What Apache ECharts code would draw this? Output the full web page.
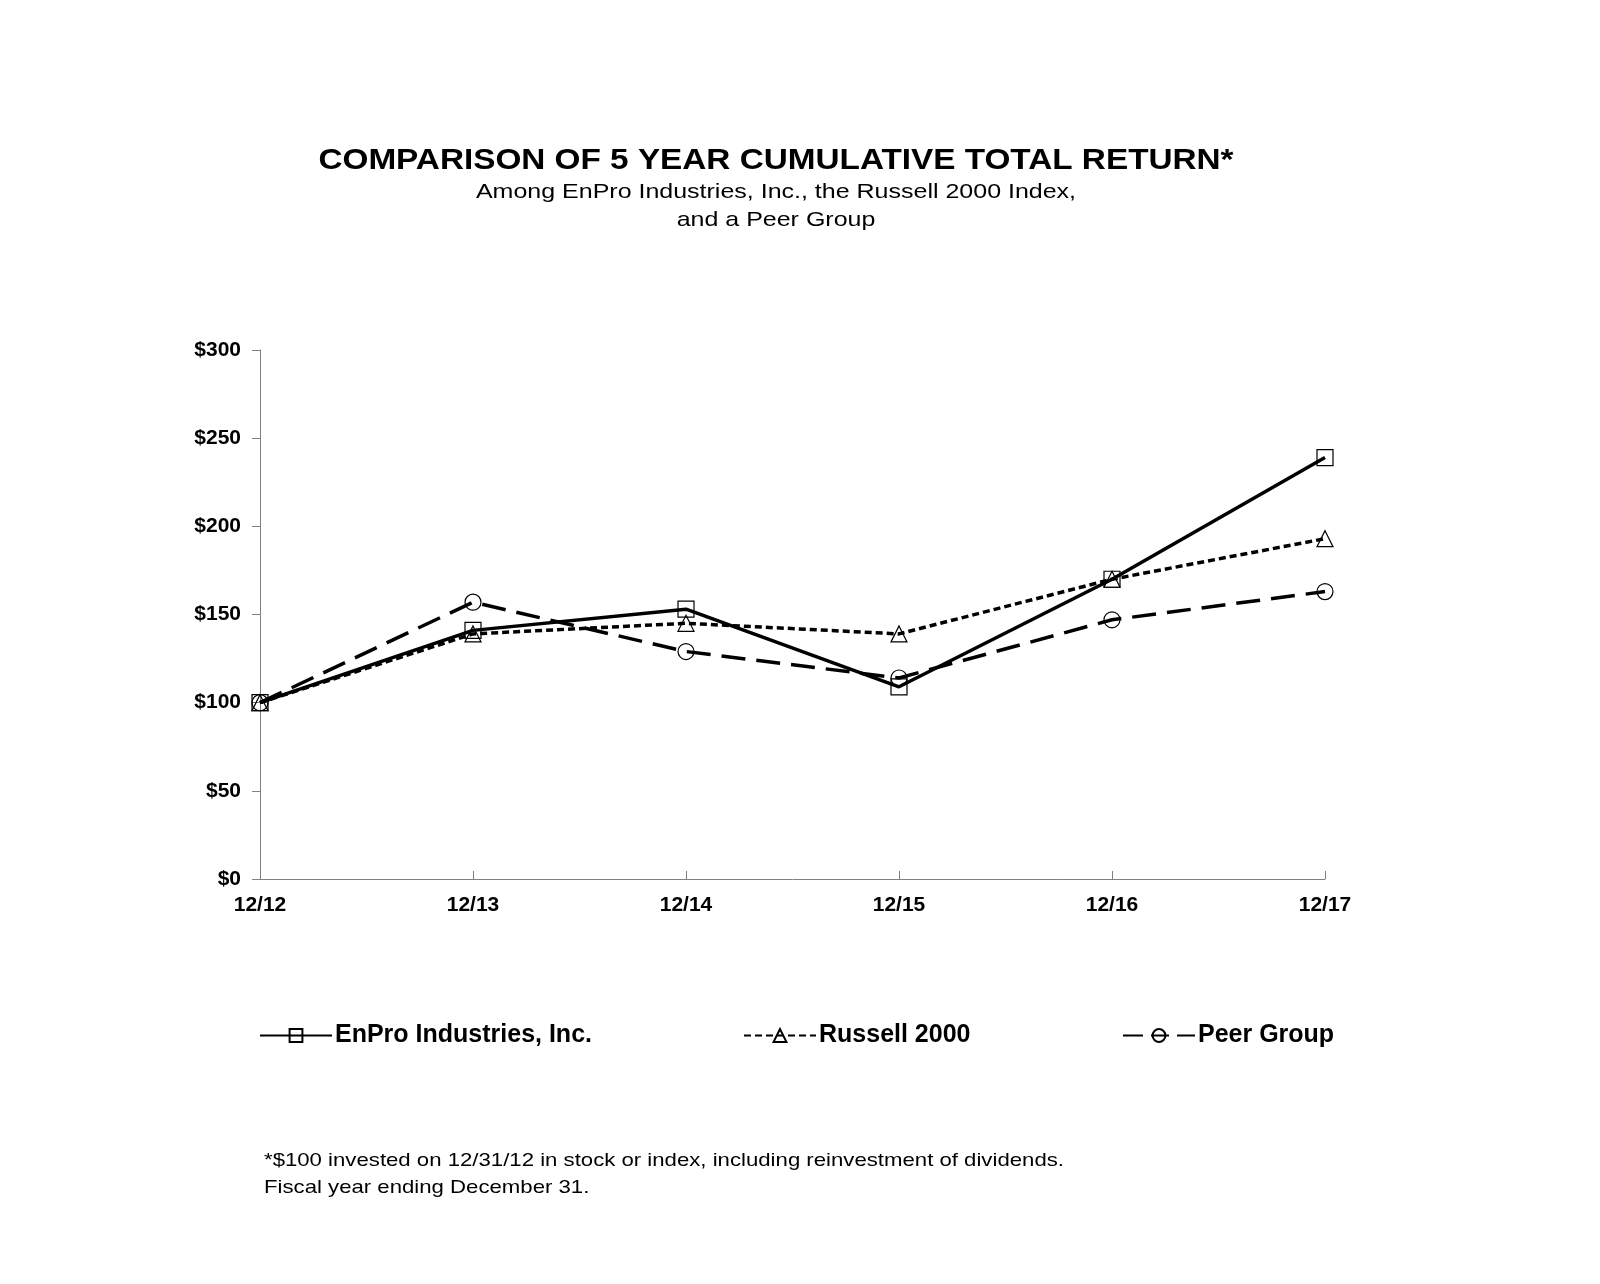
<!DOCTYPE html>
<html>
<head>
<meta charset="utf-8">
<script src="https://cdn.jsdelivr.net/npm/echarts@6/dist/echarts.min.js"></script>
<style>
html,body{margin:0;padding:0;background:#fff;}
#c{width:1600px;height:1284px;}
</style>
</head>
<body>
<div id="c"></div>
<script>
const categories = ['12/12','12/13','12/14','12/15','12/16','12/17'];
const enpro = [100, 141, 153, 109, 170, 239];
const russell = [100, 139, 145, 139, 170, 193];
const peer = [100, 157, 129, 114, 147, 163];
const seriesNames = ['EnPro Industries, Inc.', 'Russell 2000', 'Peer Group'];
const yTicks = [0, 50, 100, 150, 200, 250, 300];
const titleText = 'COMPARISON OF 5 YEAR CUMULATIVE TOTAL RETURN*';
const subtitleText = 'Among EnPro Industries, Inc., the Russell 2000 Index,\nand a Peer Group';
const footnoteText = '*$100 invested on 12/31/12 in stock or index, including reinvestment of dividends.\nFiscal year ending December 31.';

const FONT = 'Liberation Sans, Arial, sans-serif';
const chart = echarts.init(document.getElementById('c'));
function mk(name, data, symbol, lineType) {
  return {
    name, type: 'line', data,
    symbol, symbolSize: 16, showSymbol: true,
    lineStyle: { color: '#000', width: 3.5, type: lineType },
    itemStyle: { color: 'rgba(255,255,255,0)', borderColor: '#000', borderWidth: 1.2 },
    emphasis: { disabled: true },
    animation: false, z: 3
  };
}
function legendAt(name, left, dash) {
  const l = {
    data: [name], left, top: 1018,
    itemWidth: 72, itemHeight: 16,
    textStyle: { fontFamily: FONT, fontSize: 25, fontWeight: 'bold', color: '#000', padding: [0, 0, 0, -2] },
    selectedMode: false
  };
  if (dash) l.lineStyle = { type: dash };
  return l;
}
chart.setOption({
  backgroundColor: '#fff',
  animation: false,
  graphic: [
    { type: 'text', x: 776, y: 161, scaleX: 1.11,
      style: { text: titleText, x: 0, y: 0, align: 'center', verticalAlign: 'middle',
        font: 'bold 30px ' + FONT, fill: '#000' } },
    { type: 'text', x: 776, y: 178, scaleX: 1.19,
      style: { text: subtitleText, x: 0, y: 0, align: 'center', verticalAlign: 'top',
        font: '21px ' + FONT, lineHeight: 28, fill: '#000' } },
    { type: 'text', x: 264, y: 1147, scaleX: 1.167,
      style: { text: footnoteText, x: 0, y: 0, align: 'left', verticalAlign: 'top',
        font: '19px ' + FONT, lineHeight: 27, fill: '#000' } }
  ],
  grid: { left: 260, right: 275, top: 350, bottom: 405, containLabel: false },
  legend: [
    legendAt(seriesNames[0], 254),
    legendAt(seriesNames[1], 738),
    legendAt(seriesNames[2], 1117, [20, 8, 18, 8])
  ],
  xAxis: {
    type: 'category', data: categories, boundaryGap: false,
    axisLine: { lineStyle: { color: '#808080', width: 1 } },
    axisTick: { inside: true, length: 8, alignWithLabel: true, lineStyle: { color: '#808080' } },
    axisLabel: { margin: 16, fontFamily: FONT, fontSize: 21, fontWeight: 'bold', color: '#000' },
    splitLine: { show: false }
  },
  yAxis: {
    type: 'value', min: 0, max: 300, interval: 50,
    axisLine: { show: true, lineStyle: { color: '#808080', width: 1 } },
    axisTick: { show: true, length: 8, lineStyle: { color: '#808080' } },
    axisLabel: { margin: 19, fontFamily: FONT, fontSize: 21, fontWeight: 'bold', color: '#000',
      formatter: v => yTicks.includes(v) ? '$' + v : '' },
    splitLine: { show: false }
  },
  series: [
    mk(seriesNames[0], enpro, 'rect', 'solid'),
    mk(seriesNames[1], russell, 'triangle', [7, 4]),
    mk(seriesNames[2], peer, 'circle', [24, 11])
  ]
});
</script>
</body>
</html>
